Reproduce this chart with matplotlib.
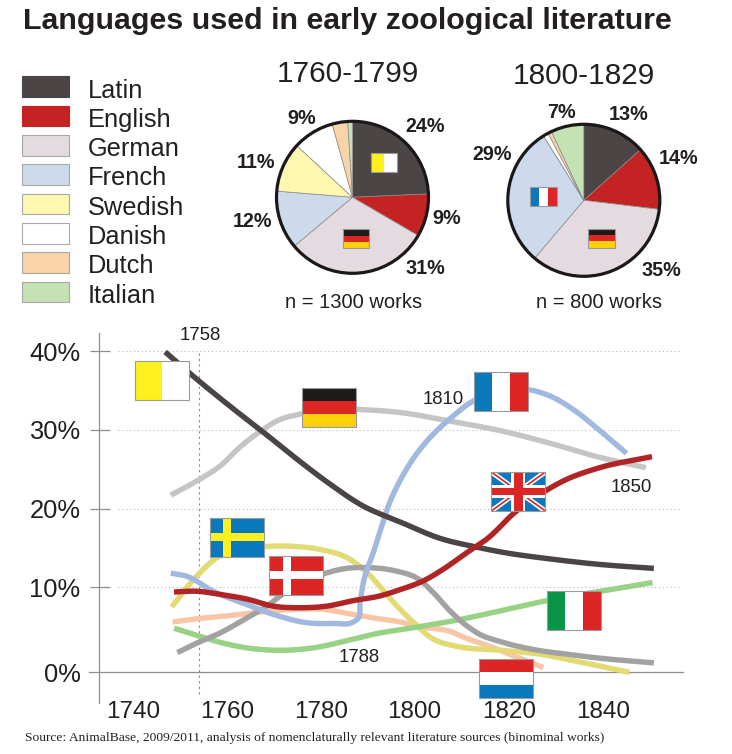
import matplotlib
matplotlib.use("Agg")
import matplotlib.pyplot as plt
import numpy as np
from matplotlib.patches import Patch, Rectangle, Circle

W, H = 732, 754
INK = "#231f20"
plt.rcParams["font.family"] = ["Liberation Sans", "DejaVu Sans"]

# ---------- data ----------
languages = ["Latin", "English", "German", "French", "Swedish", "Danish", "Dutch", "Italian"]
fill_colors = ["#4b4545", "#c42324", "#e3dbdf", "#cddaec", "#fdf7b0", "#ffffff", "#f8d4a8", "#c5e2b4"]
line_colors = {"Latin": "#4a4444", "English": "#b02426", "German": "#c6c5c5", "French": "#a2b9df",
               "Swedish": "#e2da74", "Danish": "#a3a2a2", "Dutch": "#f8c6a6", "Italian": "#98d284"}

pie1_values = [24.3, 9.1, 30.5, 12.4, 10.6, 8.8, 3.3, 1.0]
pie2_values = [13.4, 13.5, 34.3, 29.9, 0.0, 1.1, 0.8, 7.0]
pie1_labels = ["24%", "9%", "31%", "12%", "11%", "9%"]
pie2_labels = ["13%", "14%", "35%", "29%", "7%"]

latin_years = [1746.9, 1752.9, 1760.7, 1767.8, 1774.9, 1782.0, 1789.1, 1796.9, 1806.0, 1812.4, 1818.2, 1828.8, 1839.4, 1850.9]
latin_pct = [39.9, 36.8, 33.0, 29.7, 26.3, 23.1, 20.3, 18.3, 16.1, 15.2, 14.5, 13.6, 12.9, 12.4]

german_years = [1748.1, 1754.2, 1758.6, 1762.8, 1767.4, 1771.3, 1775.6, 1782.0, 1787.7, 1796.9, 1807.5, 1818.2, 1828.8, 1839.4, 1849.2]
german_pct = [21.7, 23.7, 25.4, 27.8, 29.9, 31.3, 32.0, 32.7, 32.6, 32.2, 31.1, 29.9, 28.3, 26.5, 25.2]

french_years = [1748.1, 1751.5, 1757.1, 1764.3, 1771.3, 1777.0, 1782.7, 1786.6, 1787.9, 1788.4, 1789.4, 1791.2, 1793.0,
                1794.7, 1797.2, 1801.1, 1804.7, 1807.5, 1812.6, 1818.2, 1824.2, 1828.8, 1833.7, 1839.4, 1845.1]
french_pct = [11.8, 11.4, 9.5, 7.8, 6.3, 5.5, 5.4, 5.5, 6.0, 8.1, 11.4, 14.4, 17.8,
              20.8, 23.9, 27.5, 29.9, 31.4, 33.7, 34.8, 35.1, 34.3, 32.6, 29.9, 27.0]

swedish_years = [1748.3, 1753.6, 1758.6, 1762.8, 1768.5, 1774.2, 1779.9, 1785.5, 1789.8, 1794.0, 1796.9, 1800.4, 1804.0,
                 1808.9, 1818.2, 1826.7, 1835.2, 1845.7]
swedish_pct = [7.5, 11.4, 14.0, 14.9, 15.2, 15.2, 14.8, 13.8, 11.9, 9.1, 7.2, 5.2, 3.4, 2.5, 2.0, 1.5, 0.5, -0.8]

danish_years = [1749.5, 1753.6, 1758.6, 1764.3, 1768.5, 1772.8, 1776.7, 1780.6, 1785.5, 1789.8, 1795.8, 1800.4, 1804.0,
                1807.5, 1811.1, 1813.9, 1818.2, 1825.2, 1832.3, 1840.9, 1850.9]
danish_pct = [1.7, 2.9, 4.2, 6.1, 7.6, 9.5, 10.8, 11.7, 12.4, 12.5, 12.1, 11.2, 9.3, 7.0, 5.1, 4.0, 3.1, 2.1, 1.5, 0.9, 0.4]

english_years = [1748.8, 1753.6, 1758.6, 1764.3, 1769.9, 1775.6, 1781.3, 1786.9, 1792.6, 1796.9, 1801.8, 1806.1, 1811.1,
                 1815.3, 1821.7, 1827.7, 1832.3, 1839.4, 1850.5]
english_pct = [9.4, 9.5, 9.1, 8.5, 7.6, 7.4, 7.6, 8.3, 8.9, 9.7, 10.8, 12.3, 14.4, 16.1, 19.7, 22.2, 23.7, 25.2, 26.6]

dutch_years = [1748.5, 1753.6, 1760.7, 1767.8, 1774.9, 1780.6, 1785.5, 1791.2, 1796.9, 1801.1, 1807.5, 1811.1, 1816.0, 1821.0, 1827.4]
dutch_pct = [5.6, 6.0, 6.4, 6.9, 7.2, 7.2, 6.7, 6.1, 5.6, 5.0, 4.4, 3.5, 2.5, 1.3, -0.2]

italian_years = [1748.8, 1753.6, 1758.6, 1764.3, 1771.3, 1778.4, 1785.5, 1792.6, 1796.9, 1809.6, 1818.2, 1828.1, 1839.6, 1850.6]
italian_pct = [4.8, 3.9, 3.0, 2.3, 2.0, 2.3, 3.2, 4.2, 4.6, 5.9, 7.0, 8.3, 9.5, 10.6]

x_ticks = [1740, 1760, 1780, 1800, 1820, 1840]
y_ticks = [-0.8, 10, 20, 30, 40]
y_tick_labels = ["0%", "10%", "20%", "30%", "40%"]

# ---------- figure ----------
fig = plt.figure(figsize=(W / 100, H / 100), dpi=100, facecolor="white")


def rect_from_px(x0, y0, x1, y1):
    return [x0 / W, 1 - y1 / H, (x1 - x0) / W, (y1 - y0) / H]


def smooth_draw(xs, ys, per_segment=10):
    p = np.column_stack([xs, ys]).astype(float)
    scaled = p * [4.7, 7.87]
    t = np.r_[0, np.cumsum(np.hypot(*np.diff(scaled, axis=0).T))]
    dt = np.diff(t)
    seg = np.diff(p, axis=0) / dt[:, None]
    m = np.zeros_like(p)
    m[0], m[-1] = seg[0], seg[-1]
    w0, w1 = dt[1:, None], dt[:-1, None]
    m[1:-1] = (w0 * seg[:-1] + w1 * seg[1:]) / (w0 + w1)
    out = [p[:1]]
    for i in range(len(dt)):
        u = np.linspace(0, 1, per_segment + 1)[1:, None]
        h00, h10 = 2 * u**3 - 3 * u**2 + 1, u**3 - 2 * u**2 + u
        h01, h11 = -2 * u**3 + 3 * u**2, u**3 - u**2
        out.append(h00 * p[i] + h10 * dt[i] * m[i] + h01 * p[i + 1] + h11 * dt[i] * m[i + 1])
    c = np.vstack(out)
    return c[:, 0], c[:, 1]


# ---------- line chart ----------
ax = fig.add_axes(rect_from_px(89, 333, 683, 703))
ax.set_xlim(1730.7, 1857.1)
ax.set_ylim(-4.7, 42.3)
ax.patch.set_alpha(0)
for s in ("top", "right"):
    ax.spines[s].set_visible(False)
ax.spines["left"].set_position(("data", 1732.9))
ax.spines["bottom"].set_position(("data", -0.8))
for s in ("left", "bottom"):
    ax.spines[s].set_color("#8e8e8e")
    ax.spines[s].set_linewidth(0.9)
ax.set_xticks(x_ticks)
ax.set_yticks(y_ticks)
ax.set_yticklabels(y_tick_labels)
ax.tick_params(axis="x", length=0, pad=20.5, labelsize=17.5, labelcolor=INK)
ax.tick_params(axis="y", length=0, pad=13.5, labelsize=18.4, labelcolor=INK)

for v in y_ticks[1:]:
    ax.hlines(v, 1736.9, 1856.9, color="#b8b8b8", lw=0.8, linestyles=(0, (1, 2.5)), zorder=1)
    ax.hlines(v, 1730.9, 1735.2, color="#8e8e8e", lw=0.9, zorder=1)
ax.vlines(1754.2, -3.6, 40, color="#8a8a8a", lw=0.8, linestyles=(0, (2, 3)), zorder=1)

series = [
    ("Dutch", dutch_years, dutch_pct),
    ("Swedish", swedish_years, swedish_pct),
    ("Italian", italian_years, italian_pct),
    ("Danish", danish_years, danish_pct),
    ("German", german_years, german_pct),
    ("French", french_years, french_pct),
    ("Latin", latin_years, latin_pct),
    ("English", english_years, english_pct),
]
for name, xs, ys in series:
    sx, sy = smooth_draw(xs, ys)
    ax.plot(sx, sy, color=line_colors[name], lw=3.9, solid_joinstyle="round",
            solid_capstyle="butt", zorder=3, label=name)


# ---------- pies ----------
def draw_pie(cx, cy, r, values):
    m = 1.03
    a = fig.add_axes(rect_from_px(cx - r * m, cy - r * m, cx + r * m, cy + r * m))
    a.pie(values, colors=fill_colors, startangle=90, counterclock=False, radius=1,
          wedgeprops={"edgecolor": "#8a8a8a", "linewidth": 0.5})
    a.set_xlim(-m, m)
    a.set_ylim(-m, m)
    a.add_patch(Circle((0, 0), 1, fill=False, edgecolor="#1c1819", linewidth=2.3))
    return a


draw_pie(352.5, 197.3, 76, pie1_values)
draw_pie(583.8, 200.3, 76, pie2_values)

# ---------- overlay in pixel coordinates: flags and free text ----------
ov = fig.add_axes([0, 0, 1, 1])
ov.set_xlim(0, W)
ov.set_ylim(H, 0)
ov.axis("off")
ov.patch.set_alpha(0)

BLUE, RED, GOLD, YEL, BLK, GRN = "#0a78bd", "#dc2626", "#fdd00c", "#fdf01e", "#1d1a18", "#0a9447"
EDGE = "#9a9a9a"


def r(x, y, w, h, c):
    ov.add_patch(Rectangle((x, y), w, h, facecolor=c, edgecolor="none", zorder=5))


def frame(x, y, w, h):
    ov.add_patch(Rectangle((x, y), w, h, facecolor="none", edgecolor=EDGE, lw=0.8, zorder=7))


def vbars(x, y, w, h, cols):
    n = len(cols)
    for i, c in enumerate(cols):
        r(x + i * w / n, y, w / n, h, c)
    frame(x, y, w, h)


def hbars(x, y, w, h, cols):
    n = len(cols)
    for i, c in enumerate(cols):
        r(x, y + i * h / n, w, h / n, c)
    frame(x, y, w, h)


def cross(x, y, w, h, bg, fg):
    r(x, y, w, h, bg)
    r(x + .25 * w, y, .146 * w, h, fg)
    r(x, y + .405 * h, w, .19 * h, fg)
    frame(x, y, w, h)


def union_jack(x, y, w, h):
    r(x, y, w, h, BLUE)
    clip = Rectangle((x, y), w, h, transform=ov.transData)
    for (a, b) in (((x, y), (x + w, y + h)), ((x, y + h), (x + w, y))):
        l1, = ov.plot([a[0], b[0]], [a[1], b[1]], color="white", lw=3.6, zorder=5.1, solid_capstyle="butt")
        l2, = ov.plot([a[0], b[0]], [a[1], b[1]], color=RED, lw=1.2, zorder=5.2, solid_capstyle="butt")
        l1.set_clip_path(clip)
        l2.set_clip_path(clip)
    ov.add_patch(Rectangle((x + .37 * w, y), .26 * w, h, facecolor="white", zorder=5.3))
    ov.add_patch(Rectangle((x, y + .33 * h), w, .34 * h, facecolor="white", zorder=5.3))
    ov.add_patch(Rectangle((x + .42 * w, y), .16 * w, h, facecolor=RED, zorder=5.4))
    ov.add_patch(Rectangle((x, y + .40 * h), w, .20 * h, facecolor=RED, zorder=5.4))
    frame(x, y, w, h)


FW, FH = 54, 39
vbars(135, 361.3, FW, FH, [YEL, "white"])
hbars(302.3, 388.3, FW, FH, [BLK, RED, GOLD])
cross(209.7, 517.7, FW, FH, BLUE, YEL)
cross(269.3, 555.7, FW, FH, RED, "white")
vbars(474, 372.3, FW, FH, [BLUE, "white", RED])
union_jack(491.3, 472, FW, FH)
vbars(547, 591, FW, FH, [GRN, "white", RED])
hbars(479, 659, FW, FH, [RED, "white", BLUE])

SW, SH = 26.6, 19
vbars(370.7, 153.3, SW, SH, [YEL, "white"])
hbars(342.7, 229.3, SW, SH, [BLK, RED, GOLD])
vbars(530, 187.3, SW, SH, [BLUE, "white", RED])
hbars(588, 228.7, SW, SH, [BLK, RED, GOLD])


def t(x, y, s, size, weight="normal", ha="center", family=None):
    ov.text(x, y, s, fontsize=size, fontweight=weight, ha=ha, va="center", color=INK, zorder=9,
            **({"family": family} if family else {}))


t(23, 21, "Languages used in early zoological literature", 21.9, "bold", ha="left")
t(348, 74, "1760-1799", 21.4)
t(584, 76, "1800-1829", 21.4)
t(353.5, 303, "n = 1300 works", 14.5)
t(598.7, 303, "n = 800 works", 14.5)

for s, (x, y) in zip(pie1_labels, [(424.7, 126.7), (447, 219), (425, 268), (253, 221.7), (256, 163), (301.7, 119)]):
    t(x, y, s, 14.2, "bold")
for s, (x, y) in zip(pie2_labels, [(628.7, 114), (678.7, 158.3), (661, 270), (492, 155), (561, 112.3)]):
    t(x, y, s, 14.2, "bold")

t(200.7, 335.7, "1758", 13.4)
t(443.3, 400, "1810", 13.4)
t(631, 487.3, "1850", 13.4)
t(358.7, 657.3, "1788", 13.4)

t(25, 738, "Source: AnimalBase, 2009/2011, analysis of nomenclaturally relevant literature sources (binominal works)",
  9.7, ha="left", family="Liberation Serif")

# ---------- legend ----------
handles = [Patch(facecolor=c, edgecolor="#a8a8a8" if i > 1 else c, linewidth=0.8)
           for i, c in enumerate(fill_colors)]
leg = fig.legend(handles, languages, loc="upper left", bbox_to_anchor=(22 / W, 1 - 76.5 / H), frameon=False,
                 borderpad=0, borderaxespad=0, fontsize=18.3, handlelength=1.85, handleheight=0.87,
                 handletextpad=0.75, labelspacing=0.205, labelcolor=INK)
for txt in leg.get_texts():
    txt.set_y(-2)

fig.savefig("out.png", dpi=100)
